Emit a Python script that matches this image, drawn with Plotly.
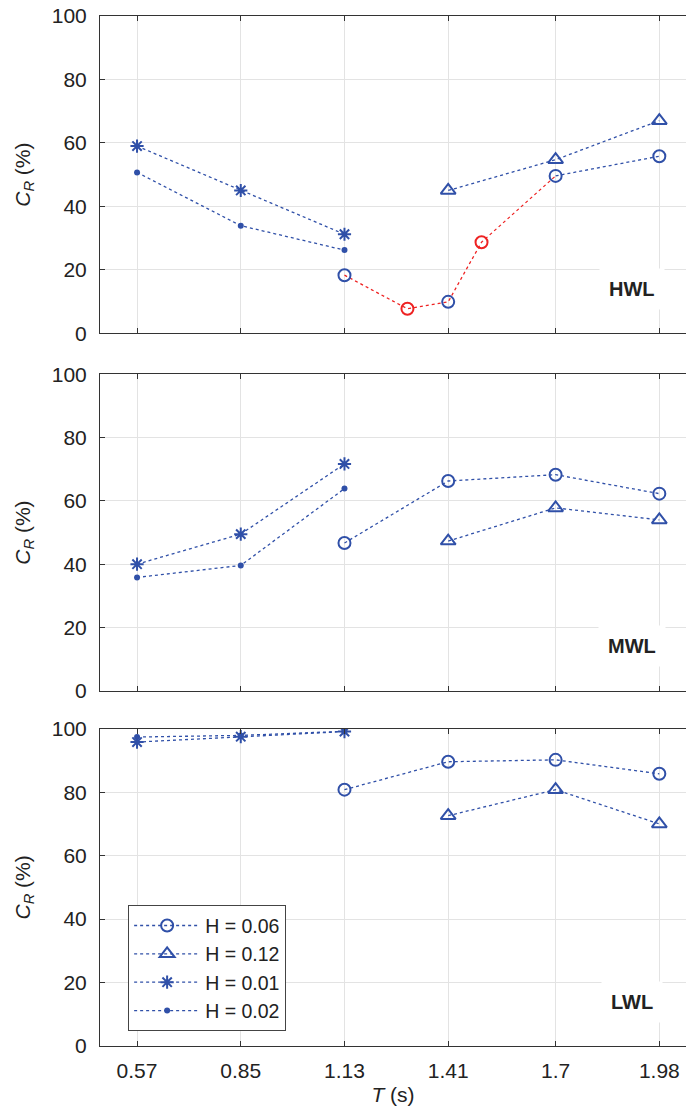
import plotly.graph_objects as go

# ---------------- data ----------------
T_ticks = [0.57, 0.85, 1.13, 1.41, 1.7, 1.98]
T_short = [0.57, 0.85, 1.13]
T_long = [1.13, 1.41, 1.7, 1.98]
T_tri = [1.41, 1.7, 1.98]

hwl_h01 = [59.0, 45.0, 31.2]
hwl_h02 = [50.7, 33.9, 26.2]
hwl_h06 = [18.3, 9.9, 49.6, 55.8]
hwl_h12 = [45.0, 54.7, 67.0]
hwl_red_T = [1.13, 1.3, 1.41, 1.5, 1.7]
hwl_red = [18.3, 7.7, 9.9, 28.7, 49.6]
hwl_red_pts_T = [1.3, 1.5]
hwl_red_pts = [7.7, 28.7]

mwl_h01 = [40.0, 49.5, 71.7]
mwl_h02 = [35.8, 39.6, 63.9]
mwl_h06 = [46.7, 66.3, 68.3, 62.3]
mwl_h12 = [47.3, 57.8, 54.0]

lwl_h01 = [95.8, 97.5, 99.1]
lwl_h02 = [97.4, 97.9, 99.2]
lwl_h06 = [80.8, 89.6, 90.2, 85.8]
lwl_h12 = [72.6, 80.8, 70.0]

labels = ["HWL", "MWL", "LWL"]
legend_names = ["H = 0.06", "H = 0.12", "H = 0.01", "H = 0.02"]

# ---------------- style ----------------
BLUE = "#3050a8"
RED = "#ee2222"
FONT = "Liberation Sans, Arial, sans-serif"
TXT = "#222222"
FS = 21
line_style = dict(color=BLUE, width=1.3, dash="dot")

mk = {
    "h06": dict(symbol="circle-open", size=12, color=BLUE, line=dict(width=2, color=BLUE)),
    "h12": dict(symbol="triangle-up-open", size=13, color=BLUE, line=dict(width=2, color=BLUE)),
    "h01": dict(symbol="asterisk-open", size=11, color=BLUE, line=dict(width=2, color=BLUE)),
    "h02": dict(symbol="circle", size=6, color=BLUE),
}

fig = go.Figure()

axes = [("x", "y"), ("x2", "y2"), ("x3", "y3")]

# top panel (HWL): red path
fig.add_trace(go.Scatter(x=hwl_red_T, y=hwl_red, mode="lines",
                         line=dict(color=RED, width=1.3, dash="dot"),
                         xaxis="x", yaxis="y", showlegend=False))
fig.add_trace(go.Scatter(x=hwl_red_pts_T, y=hwl_red_pts, mode="markers",
                         marker=dict(symbol="circle-open", size=12, color=RED,
                                     line=dict(width=2, color=RED)),
                         xaxis="x", yaxis="y", showlegend=False))

panels = [
    (hwl_h06, hwl_h12, hwl_h01, hwl_h02),
    (mwl_h06, mwl_h12, mwl_h01, mwl_h02),
    (lwl_h06, lwl_h12, lwl_h01, lwl_h02),
]

for i, (h06, h12, h01, h02) in enumerate(panels):
    xa, ya = axes[i]
    show = (i == 2)
    if i == 0:
        fig.add_trace(go.Scatter(x=T_long[2:], y=h06[2:], mode="lines", line=line_style,
                                 xaxis=xa, yaxis=ya, showlegend=False))
        fig.add_trace(go.Scatter(x=T_long, y=h06, mode="markers", marker=mk["h06"],
                                 xaxis=xa, yaxis=ya, showlegend=False))
    else:
        fig.add_trace(go.Scatter(x=T_long, y=h06, mode="lines+markers", line=line_style,
                                 marker=mk["h06"], xaxis=xa, yaxis=ya,
                                 name=legend_names[0], showlegend=show, legendrank=1))
    fig.add_trace(go.Scatter(x=T_tri, y=h12, mode="lines+markers", line=line_style,
                             marker=mk["h12"], xaxis=xa, yaxis=ya,
                             name=legend_names[1], showlegend=show, legendrank=2))
    fig.add_trace(go.Scatter(x=T_short, y=h01, mode="lines+markers", line=line_style,
                             marker=mk["h01"], xaxis=xa, yaxis=ya,
                             name=legend_names[2], showlegend=show, legendrank=3))
    fig.add_trace(go.Scatter(x=T_short, y=h02, mode="lines+markers", line=line_style,
                             marker=mk["h02"], xaxis=xa, yaxis=ya,
                             name=legend_names[3], showlegend=show, legendrank=4))

domains = [[0.692, 1.0], [0.345, 0.652], [0.0, 0.308]]
xrange_ = [0.47, 2.052]
ytitle = "<i>C</i><sub><i>R</i></sub> (%)"

common_x = dict(range=xrange_, tickmode="array", tickvals=T_ticks,
                ticktext=[str(t) for t in T_ticks],
                showgrid=True, gridcolor="#e3e3e3", gridwidth=1,
                showline=True, linecolor="#333333", linewidth=1, mirror="ticks",
                ticks="inside", ticklen=5, tickcolor="#333333",
                ticklabelstandoff=6,
                zeroline=False, tickfont=dict(size=FS, color=TXT, family=FONT))
common_y = dict(range=[0, 100], tickmode="array", tickvals=[0, 20, 40, 60, 80, 100],
                showgrid=True, gridcolor="#e3e3e3", gridwidth=1,
                showline=True, linecolor="#333333", linewidth=1,
                ticks="inside", ticklen=5, tickcolor="#333333",
                ticklabelstandoff=8,
                zeroline=False, tickfont=dict(size=FS, color=TXT, family=FONT),
                title=dict(text=ytitle, font=dict(size=FS, color=TXT, family=FONT),
                           standoff=15))

layout = {}
for i in range(3):
    xk = "xaxis" if i == 0 else f"xaxis{i+1}"
    yk = "yaxis" if i == 0 else f"yaxis{i+1}"
    yname = "y" if i == 0 else f"y{i+1}"
    xname = "x" if i == 0 else f"x{i+1}"
    xa = dict(common_x, anchor=yname, domain=[0, 1])
    if i < 2:
        xa["showticklabels"] = False
    else:
        xa["title"] = dict(text="<i>T</i> (s)", font=dict(size=FS, color=TXT, family=FONT),
                           standoff=6)
    ya = dict(common_y, anchor=xname, domain=domains[i])
    layout[xk] = xa
    layout[yk] = ya

fig.update_layout(**layout)

for i, lab in enumerate(labels):
    xname = "x" if i == 0 else f"x{i+1}"
    yname = "y" if i == 0 else f"y{i+1}"
    fig.add_annotation(x=1.906, y=14, xref=xname, yref=yname, text=f"<b>{lab}</b>",
                       showarrow=False, bgcolor="white", borderpad=9,
                       font=dict(size=20, color=TXT, family=FONT))

fig.update_layout(
    width=686, height=1110,
    margin=dict(l=100, r=0, t=16, b=64),
    paper_bgcolor="white", plot_bgcolor="white",
    font=dict(family=FONT, size=FS, color=TXT),
    legend=dict(x=0.048, y=0.1366, xanchor="left", yanchor="top",
                bgcolor="white", bordercolor="#444444", borderwidth=1,
                font=dict(size=19.5, color=TXT, family=FONT),
                itemwidth=66, tracegroupgap=0),
)

fig.write_html("out.html")
